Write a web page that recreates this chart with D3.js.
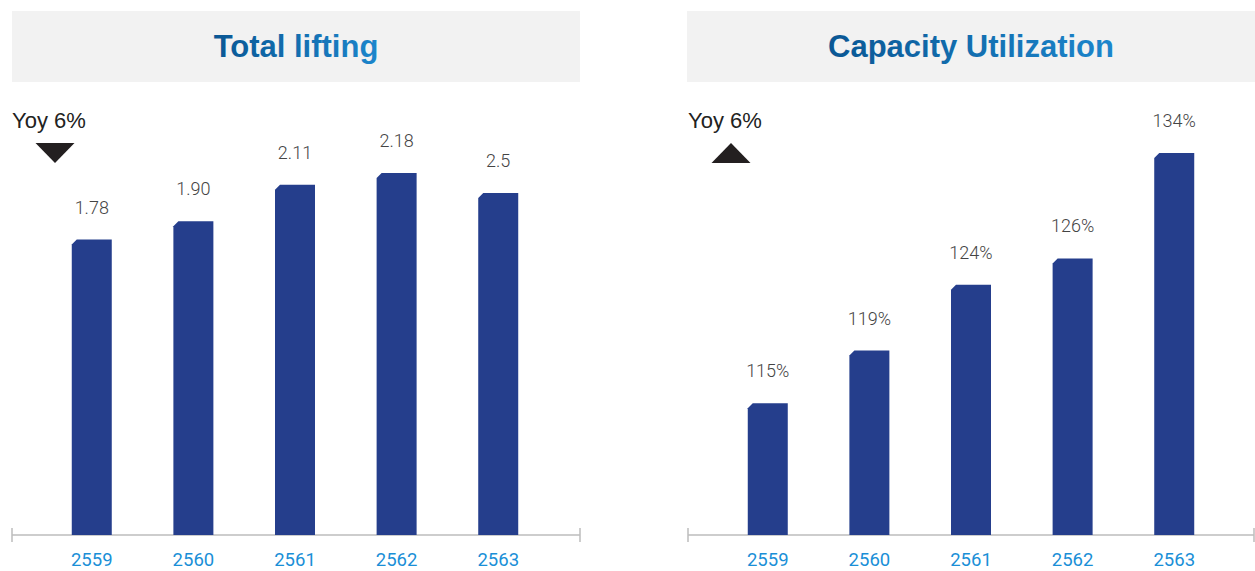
<!DOCTYPE html>
<html>
<head>
<meta charset="utf-8">
<script src="https://cdn.jsdelivr.net/npm/d3@7"></script>
<style>
  html, body { margin: 0; padding: 0; background: #fff; }
  svg { display: block; }
</style>
</head>
<body>
<svg id="chart" width="1255" height="571"></svg>
<script>
// ---- data ----
const years = ["2559", "2560", "2561", "2562", "2563"];
const liftingBarValues = [1.78, 1.89, 2.11, 2.18, 2.06];
const liftingLabels = ["1.78", "1.90", "2.11", "2.18", "2.5"];
const capacityValues = [115, 119, 124, 126, 134];
const capacityLabels = ["115%", "119%", "124%", "126%", "134%"];
const titles = ["Total lifting", "Capacity Utilization"];
const yoyTexts = ["Yoy 6%", "Yoy 6%"];
const yoyDirections = ["down", "up"];

// ---- drawing ----
const svg = d3.select("#chart");
const defs = svg.append("defs");
const grad = defs.append("linearGradient").attr("id", "titleGrad")
  .attr("x1", "0%").attr("x2", "100%").attr("y1", "0%").attr("y2", "0%");
grad.append("stop").attr("offset", "0%").attr("stop-color", "#0a5794");
grad.append("stop").attr("offset", "100%").attr("stop-color", "#1c86cc");

const BASE = 535;
const BAR_W = 40;
const BEVEL = 5;

const panels = [
  { x0: 12, x1: 578, boxX0: 12, boxX1: 580, values: liftingBarValues, labels: liftingLabels,
    y: d3.scaleLinear().domain([0, 2.5]).range([BASE, BASE - 2.5 * 166]) },
  { x0: 688, x1: 1254, boxX0: 687, boxX1: 1255, values: capacityValues, labels: capacityLabels,
    y: d3.scaleLinear().domain([105, 134]).range([BASE, 153]) }
];

panels.forEach((p, i) => {
  const g = svg.append("g");
  // title box
  g.append("rect").attr("x", p.boxX0).attr("y", 11)
    .attr("width", p.boxX1 - p.boxX0).attr("height", 71).attr("fill", "#f2f2f2");
  g.append("text").attr("x", (p.boxX0 + p.boxX1) / 2).attr("y", 57)
    .attr("text-anchor", "middle")
    .attr("font-family", "'Liberation Sans', Arial, sans-serif")
    .attr("font-weight", "bold").attr("font-size", 31)
    .attr("fill", "url(#titleGrad)")
    .text(titles[i]);

  // Yoy
  g.append("text").attr("x", p.x0).attr("y", 128)
    .attr("font-family", "'Liberation Sans', Arial, sans-serif")
    .attr("font-size", 22).attr("fill", "#222")
    .text(yoyTexts[i]);
  const tx = p.x0 + 23.5, tw = 39;
  const tri = yoyDirections[i] === "down"
    ? [[tx, 143], [tx + tw, 143], [tx + tw / 2, 163]]
    : [[tx + tw / 2, 143], [tx + tw, 163], [tx, 163]];
  g.append("path").attr("d", d3.line()(tri) + "Z").attr("fill", "#231f20");

  const x = d3.scaleBand().domain(years).range([p.x0, p.x1])
    .paddingInner(0).paddingOuter(0.285);

  // axis
  const axis = d3.axisBottom(x).tickSize(0).tickPadding(0);
  const ag = g.append("g").attr("transform", `translate(0,${BASE})`).call(axis);
  ag.select(".domain").remove();
  ag.selectAll("text")
    .attr("y", 31).attr("dy", 0)
    .attr("font-family", "Roboto, sans-serif")
    .attr("font-size", 18.5).attr("fill", "#1a8fd7");
  g.append("line").attr("x1", p.x0).attr("x2", p.x0 === 12 ? 580 : p.x1).attr("y1", BASE).attr("y2", BASE)
    .attr("stroke", "#bdbdbd").attr("stroke-width", 1.5);
  [p.x0, p.x0 === 12 ? 580 : p.x1].forEach(ex => {
    g.append("line").attr("x1", ex).attr("x2", ex).attr("y1", BASE - 7).attr("y2", BASE + 7)
      .attr("stroke", "#bdbdbd").attr("stroke-width", 1.5);
  });

  // bars
  g.selectAll("path.bar").data(years).enter().append("path")
    .attr("class", "bar")
    .attr("fill", "#253e8c")
    .attr("d", (d, j) => {
      const bx = x(d) + (x.bandwidth() - BAR_W) / 2;
      const top = p.y(p.values[j]);
      return `M${bx},${top + BEVEL}L${bx + BEVEL},${top}L${bx + BAR_W},${top}L${bx + BAR_W},${BASE}L${bx},${BASE}Z`;
    });

  // value labels
  g.selectAll("text.val").data(years).enter().append("text")
    .attr("class", "val")
    .attr("x", d => x(d) + x.bandwidth() / 2)
    .attr("y", (d, j) => p.y(p.values[j]) - 26)
    .attr("text-anchor", "middle")
    .attr("font-family", "Roboto, sans-serif").attr("font-weight", 300)
    .attr("font-size", 18).attr("fill", "#444")
    .text((d, j) => p.labels[j]);
});
</script>
</body>
</html>
